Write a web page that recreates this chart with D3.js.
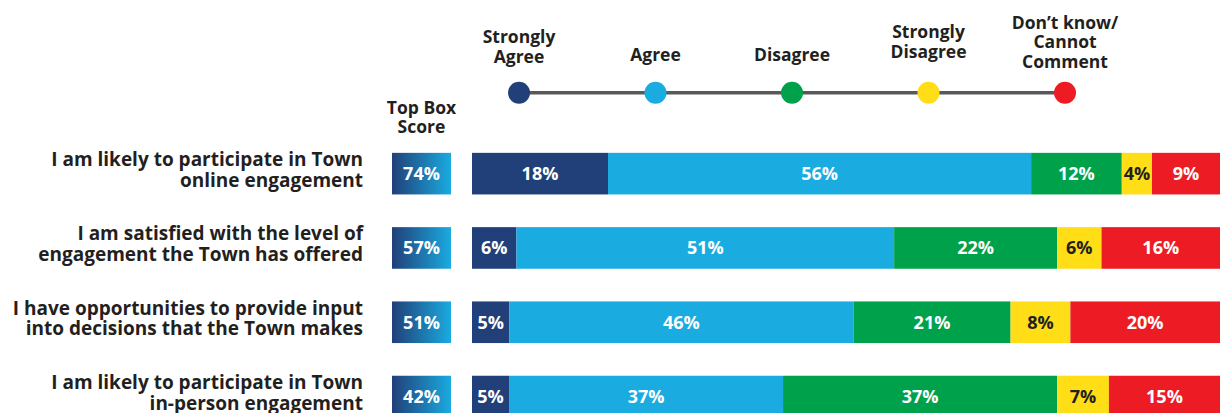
<!DOCTYPE html>
<html>
<head>
<meta charset="utf-8">
<script src="https://cdn.jsdelivr.net/npm/d3@7"></script>
<style>
  html, body { margin: 0; padding: 0; background: #ffffff; }
  svg { display: block; font-family: "Open Sans", Lato, sans-serif; font-weight: 700; }
</style>
</head>
<body>
<svg id="chart" width="1220" height="413"></svg>
<script>
// Survey statements (each split over two lines)
const statements = [
  ["I am likely to participate in Town", "online engagement"],
  ["I am satisfied with the level of", "engagement the Town has offered"],
  ["I have opportunities to provide input", "into decisions that the Town makes"],
  ["I am likely to participate in Town", "in-person engagement"]
];

// Response categories
const responses = [
  ["Strongly", "Agree"],
  ["Agree"],
  ["Disagree"],
  ["Strongly", "Disagree"],
  ["Don\u2019t know/", "Cannot", "Comment"]
];

// Percentages per response category, one value per statement
const stronglyAgree    = [18, 6, 5, 5];
const agree            = [56, 51, 46, 37];
const disagree         = [12, 22, 21, 37];
const stronglyDisagree = [4, 6, 8, 7];
const dontKnow         = [9, 16, 20, 15];

// Top box score (strongly agree + agree)
const topBox = [74, 57, 51, 42];

const colors = ["#213f78", "#1aabe0", "#00a14b", "#ffdd17", "#ed1c24"];
const textColors = ["#ffffff", "#ffffff", "#ffffff", "#231f20", "#ffffff"];
const ink = "#231f20";

const svg = d3.select("#chart");
const defs = svg.append("defs");
const grad = defs.append("linearGradient").attr("id", "topbox-grad")
  .attr("x1", "0%").attr("x2", "100%").attr("y1", "0%").attr("y2", "0%");
grad.append("stop").attr("offset", "0%").attr("stop-color", "#213f78");
grad.append("stop").attr("offset", "100%").attr("stop-color", "#1aabe0");

const seriesList = [stronglyAgree, agree, disagree, stronglyDisagree, dontKnow];
const rows = statements.map((s, i) => {
  const vals = seriesList.map(arr => arr[i]);
  return { idx: i, label: s, values: vals, total: d3.sum(vals), top: topBox[i] };
});

// Layout
const barLeft = 472, barRight = 1220;
const y = d3.scaleBand()
  .domain(rows.map(r => r.idx))
  .range([136.5, 433.7])
  .paddingInner(0.44)
  .paddingOuter(0.22);
const bh = y.bandwidth();

// ---- Legend: connected circles ----
const legendX = d3.scalePoint()
  .domain(d3.range(responses.length))
  .range([519, 1065]);
const legendY = 92.7;

svg.append("line")
  .attr("x1", legendX(0)).attr("x2", legendX(responses.length - 1))
  .attr("y1", legendY).attr("y2", legendY)
  .attr("stroke", "#58595b").attr("stroke-width", 3.5);

svg.selectAll("circle.legend")
  .data(responses)
  .join("circle")
  .attr("class", "legend")
  .attr("cx", (d, i) => legendX(i))
  .attr("cy", legendY)
  .attr("r", 11)
  .attr("fill", (d, i) => colors[i]);

// baseline of the last line of each legend label
const legendBase = [62.5, 61, 60.5, 57.7, 67.7];
const legendLH = 19.4;
svg.selectAll("text.legend")
  .data(responses)
  .join("text")
  .attr("class", "legend")
  .attr("text-anchor", "middle")
  .attr("font-size", 17.5)
  .attr("fill", ink)
  .each(function (lines, i) {
    const t = d3.select(this);
    lines.forEach((ln, k) => {
      t.append("tspan")
        .attr("x", legendX(i))
        .attr("y", legendBase[i] - (lines.length - 1 - k) * legendLH)
        .text(ln);
    });
  });

// ---- Top box header ----
const topBoxX = 392, topBoxW = 59;
svg.append("text")
  .attr("text-anchor", "middle")
  .attr("font-size", 17.5)
  .attr("fill", ink)
  .selectAll("tspan")
  .data(["Top Box", "Score"])
  .join("tspan")
  .attr("x", topBoxX + topBoxW / 2)
  .attr("y", (d, i) => 114 + i * 19)
  .text(d => d);

// ---- Rows ----
const rowG = svg.selectAll("g.row")
  .data(rows)
  .join("g")
  .attr("class", "row")
  .attr("transform", d => `translate(0,${y(d.idx)})`);

// statement labels
rowG.append("text")
  .attr("text-anchor", "end")
  .attr("font-size", 19)
  .attr("fill", ink)
  .selectAll("tspan")
  .data(d => d.label)
  .join("tspan")
  .attr("x", 363)
  .attr("y", (d, i) => bh / 2 - 7.5 + i * 20.5)
  .text(d => d);

// top box score cells
rowG.append("rect")
  .attr("x", topBoxX).attr("y", 0)
  .attr("width", topBoxW).attr("height", bh)
  .attr("fill", "url(#topbox-grad)");
rowG.append("text")
  .attr("x", topBoxX + topBoxW / 2)
  .attr("y", bh / 2)
  .attr("dy", "0.36em")
  .attr("text-anchor", "middle")
  .attr("font-size", 18)
  .attr("fill", "#ffffff")
  .text(d => d.top + "%");

// stacked segments
rowG.each(function (row) {
  const g = d3.select(this);
  const x = d3.scaleLinear().domain([0, row.total]).range([barLeft, barRight]);
  const stacked = [];
  let acc = 0;
  row.values.forEach((v, i) => { stacked.push({ i, v, x0: acc, x1: acc + v }); acc += v; });

  g.selectAll("rect.seg")
    .data(stacked)
    .join("rect")
    .attr("class", "seg")
    .attr("x", d => x(d.x0))
    .attr("y", 0)
    .attr("width", d => x(d.x1) - x(d.x0))
    .attr("height", bh)
    .attr("fill", d => colors[d.i]);

  g.selectAll("text.seg")
    .data(stacked)
    .join("text")
    .attr("class", "seg")
    .attr("x", d => (x(d.x0) + x(d.x1)) / 2)
    .attr("y", bh / 2)
    .attr("dy", "0.36em")
    .attr("text-anchor", "middle")
    .attr("font-size", 18)
    .attr("fill", d => textColors[d.i])
    .text(d => d.v + "%");
});
</script>
</body>
</html>
